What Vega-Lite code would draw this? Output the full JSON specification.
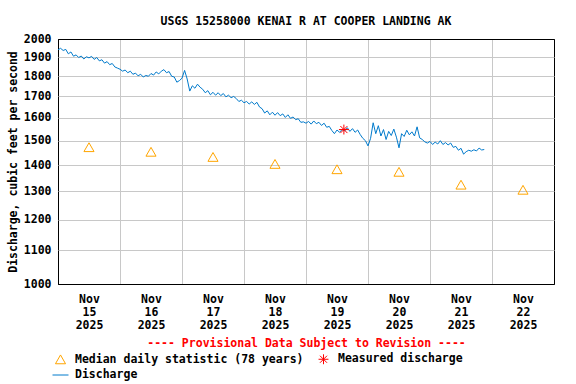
{
  "$schema": "https://vega.github.io/schema/vega-lite/v6.json",
  "width": 496,
  "height": 245,
  "autosize": {"type": "none"},
  "padding": {"left": 58, "top": 39, "right": 22, "bottom": 100},
  "background": "white",
  "title": {
    "text": "USGS 15258000 KENAI R AT COOPER LANDING AK",
    "font": "DejaVu Sans Mono",
    "fontSize": 11.5,
    "fontWeight": "bold",
    "color": "black",
    "offset": 6,
    "anchor": "middle"
  },
  "config": {
    "view": {"stroke": "black", "strokeWidth": 1},
    "font": "DejaVu Sans Mono",
    "axis": {
      "labelFont": "DejaVu Sans Mono",
      "labelFontSize": 11.5,
      "labelFontWeight": "bold",
      "labelColor": "black",
      "titleFont": "DejaVu Sans Mono",
      "titleFontSize": 11.5,
      "titleFontWeight": "bold",
      "titleColor": "black",
      "ticks": false,
      "domain": false,
      "grid": true,
      "gridWidth": 1
    },
    "legend": {
      "labelFont": "DejaVu Sans Mono",
      "labelFontSize": 11.5,
      "labelFontWeight": "bold",
      "labelColor": "black"
    }
  },
  "datasets": {
    "q": [
      {"time": "2025-11-15T00:00:00Z", "cfs": 1940},
      {"time": "2025-11-15T01:00:00Z", "cfs": 1948},
      {"time": "2025-11-15T02:00:00Z", "cfs": 1936},
      {"time": "2025-11-15T03:00:00Z", "cfs": 1942},
      {"time": "2025-11-15T04:00:00Z", "cfs": 1918},
      {"time": "2025-11-15T05:00:00Z", "cfs": 1928},
      {"time": "2025-11-15T06:00:00Z", "cfs": 1905},
      {"time": "2025-11-15T07:00:00Z", "cfs": 1912},
      {"time": "2025-11-15T08:00:00Z", "cfs": 1898},
      {"time": "2025-11-15T09:00:00Z", "cfs": 1906},
      {"time": "2025-11-15T10:00:00Z", "cfs": 1890},
      {"time": "2025-11-15T11:00:00Z", "cfs": 1902},
      {"time": "2025-11-15T12:00:00Z", "cfs": 1896},
      {"time": "2025-11-15T13:00:00Z", "cfs": 1904},
      {"time": "2025-11-15T14:00:00Z", "cfs": 1888},
      {"time": "2025-11-15T15:00:00Z", "cfs": 1898},
      {"time": "2025-11-15T16:00:00Z", "cfs": 1880},
      {"time": "2025-11-15T17:00:00Z", "cfs": 1886},
      {"time": "2025-11-15T18:00:00Z", "cfs": 1868},
      {"time": "2025-11-15T19:00:00Z", "cfs": 1876},
      {"time": "2025-11-15T20:00:00Z", "cfs": 1860},
      {"time": "2025-11-15T21:00:00Z", "cfs": 1866},
      {"time": "2025-11-15T22:00:00Z", "cfs": 1848},
      {"time": "2025-11-15T23:00:00Z", "cfs": 1842},
      {"time": "2025-11-16T00:00:00Z", "cfs": 1836},
      {"time": "2025-11-16T01:00:00Z", "cfs": 1826},
      {"time": "2025-11-16T02:00:00Z", "cfs": 1832},
      {"time": "2025-11-16T03:00:00Z", "cfs": 1818},
      {"time": "2025-11-16T04:00:00Z", "cfs": 1826},
      {"time": "2025-11-16T05:00:00Z", "cfs": 1810},
      {"time": "2025-11-16T06:00:00Z", "cfs": 1816},
      {"time": "2025-11-16T07:00:00Z", "cfs": 1802},
      {"time": "2025-11-16T08:00:00Z", "cfs": 1810},
      {"time": "2025-11-16T09:00:00Z", "cfs": 1796},
      {"time": "2025-11-16T10:00:00Z", "cfs": 1804},
      {"time": "2025-11-16T11:00:00Z", "cfs": 1800},
      {"time": "2025-11-16T12:00:00Z", "cfs": 1814},
      {"time": "2025-11-16T13:00:00Z", "cfs": 1806},
      {"time": "2025-11-16T14:00:00Z", "cfs": 1822},
      {"time": "2025-11-16T15:00:00Z", "cfs": 1812},
      {"time": "2025-11-16T16:00:00Z", "cfs": 1826},
      {"time": "2025-11-16T17:00:00Z", "cfs": 1834},
      {"time": "2025-11-16T18:00:00Z", "cfs": 1818},
      {"time": "2025-11-16T19:00:00Z", "cfs": 1824},
      {"time": "2025-11-16T20:00:00Z", "cfs": 1800},
      {"time": "2025-11-16T21:00:00Z", "cfs": 1796},
      {"time": "2025-11-16T22:00:00Z", "cfs": 1770},
      {"time": "2025-11-16T23:00:00Z", "cfs": 1778},
      {"time": "2025-11-17T00:00:00Z", "cfs": 1790},
      {"time": "2025-11-17T01:00:00Z", "cfs": 1830},
      {"time": "2025-11-17T02:00:00Z", "cfs": 1786},
      {"time": "2025-11-17T03:00:00Z", "cfs": 1726},
      {"time": "2025-11-17T04:00:00Z", "cfs": 1752},
      {"time": "2025-11-17T05:00:00Z", "cfs": 1740},
      {"time": "2025-11-17T06:00:00Z", "cfs": 1760},
      {"time": "2025-11-17T07:00:00Z", "cfs": 1745},
      {"time": "2025-11-17T08:00:00Z", "cfs": 1735},
      {"time": "2025-11-17T09:00:00Z", "cfs": 1718},
      {"time": "2025-11-17T10:00:00Z", "cfs": 1728},
      {"time": "2025-11-17T11:00:00Z", "cfs": 1708},
      {"time": "2025-11-17T12:00:00Z", "cfs": 1720},
      {"time": "2025-11-17T13:00:00Z", "cfs": 1706},
      {"time": "2025-11-17T14:00:00Z", "cfs": 1718},
      {"time": "2025-11-17T15:00:00Z", "cfs": 1704},
      {"time": "2025-11-17T16:00:00Z", "cfs": 1714},
      {"time": "2025-11-17T17:00:00Z", "cfs": 1698},
      {"time": "2025-11-17T18:00:00Z", "cfs": 1706},
      {"time": "2025-11-17T19:00:00Z", "cfs": 1694},
      {"time": "2025-11-17T20:00:00Z", "cfs": 1700},
      {"time": "2025-11-17T21:00:00Z", "cfs": 1690},
      {"time": "2025-11-17T22:00:00Z", "cfs": 1676},
      {"time": "2025-11-17T23:00:00Z", "cfs": 1682},
      {"time": "2025-11-18T00:00:00Z", "cfs": 1670},
      {"time": "2025-11-18T01:00:00Z", "cfs": 1676},
      {"time": "2025-11-18T02:00:00Z", "cfs": 1664},
      {"time": "2025-11-18T03:00:00Z", "cfs": 1674},
      {"time": "2025-11-18T04:00:00Z", "cfs": 1662},
      {"time": "2025-11-18T05:00:00Z", "cfs": 1672},
      {"time": "2025-11-18T06:00:00Z", "cfs": 1650},
      {"time": "2025-11-18T07:00:00Z", "cfs": 1642},
      {"time": "2025-11-18T08:00:00Z", "cfs": 1622},
      {"time": "2025-11-18T09:00:00Z", "cfs": 1632},
      {"time": "2025-11-18T10:00:00Z", "cfs": 1614},
      {"time": "2025-11-18T11:00:00Z", "cfs": 1626},
      {"time": "2025-11-18T12:00:00Z", "cfs": 1612},
      {"time": "2025-11-18T13:00:00Z", "cfs": 1624},
      {"time": "2025-11-18T14:00:00Z", "cfs": 1610},
      {"time": "2025-11-18T15:00:00Z", "cfs": 1618},
      {"time": "2025-11-18T16:00:00Z", "cfs": 1602},
      {"time": "2025-11-18T17:00:00Z", "cfs": 1614},
      {"time": "2025-11-18T18:00:00Z", "cfs": 1598},
      {"time": "2025-11-18T19:00:00Z", "cfs": 1604},
      {"time": "2025-11-18T20:00:00Z", "cfs": 1592},
      {"time": "2025-11-18T21:00:00Z", "cfs": 1596},
      {"time": "2025-11-18T22:00:00Z", "cfs": 1580},
      {"time": "2025-11-18T23:00:00Z", "cfs": 1582},
      {"time": "2025-11-19T00:00:00Z", "cfs": 1576},
      {"time": "2025-11-19T01:00:00Z", "cfs": 1584},
      {"time": "2025-11-19T02:00:00Z", "cfs": 1572},
      {"time": "2025-11-19T03:00:00Z", "cfs": 1586},
      {"time": "2025-11-19T04:00:00Z", "cfs": 1574},
      {"time": "2025-11-19T05:00:00Z", "cfs": 1580},
      {"time": "2025-11-19T06:00:00Z", "cfs": 1566},
      {"time": "2025-11-19T07:00:00Z", "cfs": 1576},
      {"time": "2025-11-19T08:00:00Z", "cfs": 1558},
      {"time": "2025-11-19T09:00:00Z", "cfs": 1562},
      {"time": "2025-11-19T10:00:00Z", "cfs": 1544},
      {"time": "2025-11-19T11:00:00Z", "cfs": 1530},
      {"time": "2025-11-19T12:00:00Z", "cfs": 1546},
      {"time": "2025-11-19T13:00:00Z", "cfs": 1536},
      {"time": "2025-11-19T14:00:00Z", "cfs": 1548},
      {"time": "2025-11-19T15:00:00Z", "cfs": 1542},
      {"time": "2025-11-19T16:00:00Z", "cfs": 1556},
      {"time": "2025-11-19T17:00:00Z", "cfs": 1540},
      {"time": "2025-11-19T18:00:00Z", "cfs": 1552},
      {"time": "2025-11-19T19:00:00Z", "cfs": 1536},
      {"time": "2025-11-19T20:00:00Z", "cfs": 1546},
      {"time": "2025-11-19T21:00:00Z", "cfs": 1526},
      {"time": "2025-11-19T22:00:00Z", "cfs": 1510},
      {"time": "2025-11-19T23:00:00Z", "cfs": 1500},
      {"time": "2025-11-20T00:00:00Z", "cfs": 1478},
      {"time": "2025-11-20T01:00:00Z", "cfs": 1510},
      {"time": "2025-11-20T02:00:00Z", "cfs": 1578},
      {"time": "2025-11-20T03:00:00Z", "cfs": 1530},
      {"time": "2025-11-20T04:00:00Z", "cfs": 1565},
      {"time": "2025-11-20T05:00:00Z", "cfs": 1520},
      {"time": "2025-11-20T06:00:00Z", "cfs": 1548},
      {"time": "2025-11-20T07:00:00Z", "cfs": 1505},
      {"time": "2025-11-20T08:00:00Z", "cfs": 1540},
      {"time": "2025-11-20T09:00:00Z", "cfs": 1522},
      {"time": "2025-11-20T10:00:00Z", "cfs": 1550},
      {"time": "2025-11-20T11:00:00Z", "cfs": 1515},
      {"time": "2025-11-20T12:00:00Z", "cfs": 1470},
      {"time": "2025-11-20T13:00:00Z", "cfs": 1530},
      {"time": "2025-11-20T14:00:00Z", "cfs": 1518},
      {"time": "2025-11-20T15:00:00Z", "cfs": 1545},
      {"time": "2025-11-20T16:00:00Z", "cfs": 1525},
      {"time": "2025-11-20T17:00:00Z", "cfs": 1538},
      {"time": "2025-11-20T18:00:00Z", "cfs": 1520},
      {"time": "2025-11-20T19:00:00Z", "cfs": 1560},
      {"time": "2025-11-20T20:00:00Z", "cfs": 1512},
      {"time": "2025-11-20T21:00:00Z", "cfs": 1505},
      {"time": "2025-11-20T22:00:00Z", "cfs": 1495},
      {"time": "2025-11-20T23:00:00Z", "cfs": 1490},
      {"time": "2025-11-21T00:00:00Z", "cfs": 1497},
      {"time": "2025-11-21T01:00:00Z", "cfs": 1484},
      {"time": "2025-11-21T02:00:00Z", "cfs": 1494},
      {"time": "2025-11-21T03:00:00Z", "cfs": 1486},
      {"time": "2025-11-21T04:00:00Z", "cfs": 1500},
      {"time": "2025-11-21T05:00:00Z", "cfs": 1484},
      {"time": "2025-11-21T06:00:00Z", "cfs": 1492},
      {"time": "2025-11-21T07:00:00Z", "cfs": 1482},
      {"time": "2025-11-21T08:00:00Z", "cfs": 1490},
      {"time": "2025-11-21T09:00:00Z", "cfs": 1472},
      {"time": "2025-11-21T10:00:00Z", "cfs": 1476},
      {"time": "2025-11-21T11:00:00Z", "cfs": 1460},
      {"time": "2025-11-21T12:00:00Z", "cfs": 1468},
      {"time": "2025-11-21T13:00:00Z", "cfs": 1444},
      {"time": "2025-11-21T14:00:00Z", "cfs": 1454},
      {"time": "2025-11-21T15:00:00Z", "cfs": 1460},
      {"time": "2025-11-21T16:00:00Z", "cfs": 1456},
      {"time": "2025-11-21T17:00:00Z", "cfs": 1462},
      {"time": "2025-11-21T18:00:00Z", "cfs": 1457},
      {"time": "2025-11-21T19:00:00Z", "cfs": 1469},
      {"time": "2025-11-21T20:00:00Z", "cfs": 1461},
      {"time": "2025-11-21T21:00:00Z", "cfs": 1463}
    ],
    "obs": [
      {"time": "2025-11-15T12:00:00Z", "cfs": 1471, "series": "Median daily statistic (78 years)"},
      {"time": "2025-11-16T12:00:00Z", "cfs": 1452, "series": "Median daily statistic (78 years)"},
      {"time": "2025-11-17T12:00:00Z", "cfs": 1431, "series": "Median daily statistic (78 years)"},
      {"time": "2025-11-18T12:00:00Z", "cfs": 1403, "series": "Median daily statistic (78 years)"},
      {"time": "2025-11-19T12:00:00Z", "cfs": 1382, "series": "Median daily statistic (78 years)"},
      {"time": "2025-11-20T12:00:00Z", "cfs": 1372, "series": "Median daily statistic (78 years)"},
      {"time": "2025-11-21T12:00:00Z", "cfs": 1323, "series": "Median daily statistic (78 years)"},
      {"time": "2025-11-22T12:00:00Z", "cfs": 1304, "series": "Median daily statistic (78 years)"},
      {"time": "2025-11-19T14:40:00Z", "cfs": 1548, "series": "Measured discharge"}
    ]
  },
  "encoding": {
    "x": {
      "field": "time",
      "type": "temporal",
      "scale": {
        "type": "utc",
        "domain": [
          {"year": 2025, "month": 11, "date": 15, "utc": true},
          {"year": 2025, "month": 11, "date": 23, "utc": true}
        ]
      },
      "axis": {
        "values": [
          {"year": 2025, "month": 11, "date": 15, "utc": true},
          {"year": 2025, "month": 11, "date": 16, "utc": true},
          {"year": 2025, "month": 11, "date": 17, "utc": true},
          {"year": 2025, "month": 11, "date": 18, "utc": true},
          {"year": 2025, "month": 11, "date": 19, "utc": true},
          {"year": 2025, "month": 11, "date": 20, "utc": true},
          {"year": 2025, "month": 11, "date": 21, "utc": true},
          {"year": 2025, "month": 11, "date": 22, "utc": true}
        ],
        "labelExpr": "[utcFormat(datum.value, '%b'), utcFormat(datum.value, '%d'), utcFormat(datum.value, '%Y')]",
        "labelOffset": 31,
        "labelLineHeight": 13.2,
        "labelPadding": 9,
        "labelBound": false,
        "labelFlush": false,
        "labelOverlap": false,
        "gridColor": {"condition": {"test": "datum.value <= utc(2025, 10, 15)", "value": "black"}, "value": "#c8c8c8"},
        "title": "---- Provisional Data Subject to Revision ----",
        "titleColor": "#ff0000",
        "titlePadding": 7
      }
    },
    "y": {
      "field": "cfs",
      "type": "quantitative",
      "scale": {"type": "log", "domain": [1000, 2000], "nice": false},
      "axis": {
        "values": [1000, 1100, 1200, 1300, 1400, 1500, 1600, 1700, 1800, 1900, 2000],
        "format": "d",
        "labelPadding": 7,
        "gridColor": {"condition": {"test": "datum.value <= 1000 || datum.value >= 2000", "value": "black"}, "value": "#c8c8c8"},
        "title": "Discharge, cubic feet per second",
        "titlePadding": 5
      }
    }
  },
  "layer": [
    {
      "data": {"name": "q"},
      "mark": {"type": "line", "color": "#007acc", "strokeWidth": 1}
    },
    {
      "data": {"name": "obs"},
      "mark": {"type": "point", "filled": false, "strokeWidth": 1, "size": 256, "opacity": 1},
      "encoding": {
        "color": {
          "field": "series",
          "type": "nominal",
          "scale": {
            "domain": ["Median daily statistic (78 years)", "Measured discharge", "Discharge"],
            "range": ["#ffa500", "#ff0000", "#007acc"]
          },
          "legend": {
            "title": null,
            "orient": "none",
            "legendX": -6,
            "legendY": 311.5,
            "columns": 2,
            "direction": "horizontal",
            "columnPadding": 11,
            "rowPadding": 0,
            "symbolSize": 256,
            "symbolStrokeWidth": 1,
            "labelOffset": 6,
            "labelLimit": 0,
            "padding": 0
          }
        },
        "shape": {
          "field": "series",
          "type": "nominal",
          "scale": {
            "domain": ["Median daily statistic (78 years)", "Measured discharge", "Discharge"],
            "range": [
              "M0,-0.6L0.63,0.5L-0.63,0.5Z",
              "M-0.62,0L0.62,0M0,-0.62L0,0.62M-0.44,-0.44L0.44,0.44M-0.44,0.44L0.44,-0.44",
              "stroke"
            ]
          },
          "legend": {
            "title": null,
            "orient": "none",
            "legendX": -6,
            "legendY": 311.5,
            "columns": 2,
            "direction": "horizontal",
            "columnPadding": 11,
            "rowPadding": 0,
            "symbolSize": 256,
            "symbolStrokeWidth": 1,
            "labelOffset": 6,
            "labelLimit": 0,
            "padding": 0
          }
        }
      }
    }
  ]
}
